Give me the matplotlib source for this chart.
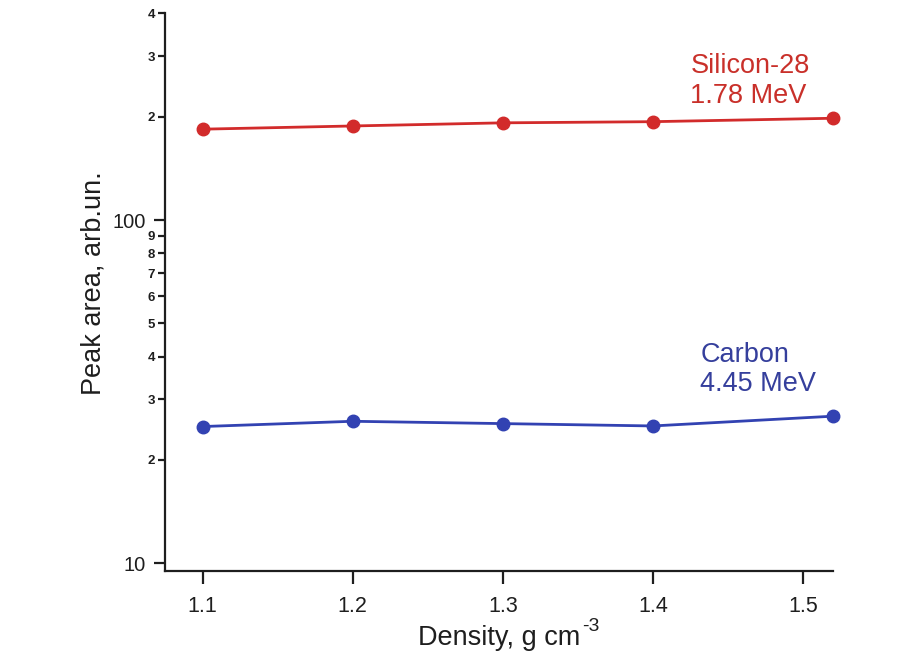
import matplotlib
matplotlib.use("Agg")
import matplotlib.pyplot as plt
from matplotlib.ticker import FixedLocator, FuncFormatter
import numpy as np

plt.rcParams['font.family'] = ['Liberation Sans', 'DejaVu Sans']

density = [1.1, 1.2, 1.3, 1.4, 1.52]
silicon = [184, 188, 192, 193.5, 198]
carbon = [25.0, 25.9, 25.5, 25.1, 26.8]

x_ticks = [1.1, 1.2, 1.3, 1.4, 1.5]
y_major = [10, 100]
y_minor = [20, 30, 40, 50, 60, 70, 80, 90, 200, 300, 400]

red = '#d22b2b'
blue = '#3242b2'
ink = '#1e1e1e'

fig = plt.figure(figsize=(9.1, 6.58), dpi=100)
ax = fig.add_axes([0.1813, 0.1322, 0.7341, 0.8473])

ax.plot(density, silicon, '-o', color=red, lw=2, ms=9, clip_on=False, zorder=3)
ax.plot(density, carbon, '-o', color=blue, lw=2, ms=9, clip_on=False, zorder=3)

ax.set_yscale('log')
ax.set_ylim(9.48, 400)
ax.set_xlim(1.075, 1.52)

ax.yaxis.set_major_locator(FixedLocator(y_major))
ax.yaxis.set_major_formatter(FuncFormatter(lambda v, p: f"{v:g}"))
ax.yaxis.set_minor_locator(FixedLocator(y_minor))
ax.yaxis.set_minor_formatter(
    FuncFormatter(lambda v, p: str(int(round(v / 10 ** np.floor(np.log10(v)))))))
ax.set_xticks(x_ticks)
ax.set_xticklabels([f"{v:.1f}" for v in x_ticks])

for s in ['top', 'right']:
    ax.spines[s].set_visible(False)
for s in ['left', 'bottom']:
    ax.spines[s].set_linewidth(1.6)
    ax.spines[s].set_color(ink)

ax.tick_params(axis='y', which='major', length=8, width=1.6, labelsize=14.5, pad=6, colors=ink)
ax.tick_params(axis='y', which='minor', length=5, width=1.6, labelsize=9.5, pad=2, colors=ink)
for lab in ax.yaxis.get_minorticklabels():
    lab.set_fontweight('bold')
ax.tick_params(axis='x', which='major', length=9, width=1.6, labelsize=15.5, pad=9, colors=ink)
ax.tick_params(axis='x', which='minor', bottom=False)

# axis titles
fig.text(93 / 910, 1 - 283 / 658, 'Peak area, arb.un.', rotation=90, fontsize=19.5,
         ha='center', va='center', color=ink)
xl = fig.text(418 / 910, 1 - 645 / 658, 'Density, g cm', fontsize=19.5,
              ha='left', va='baseline', color=ink)
fig.canvas.draw()
bb = xl.get_window_extent()
fig.text((bb.x1 + 2) / 910, 1 - 631 / 658, '-3', fontsize=14, ha='left',
         va='baseline', color=ink)

# series annotations
ax.text(1.425, 267.8, 'Silicon-28', color='#c9302a', fontsize=19.5, ha='left', va='baseline')
ax.text(1.425, 218.9, '1.78 MeV', color='#c9302a', fontsize=19.5, ha='left', va='baseline')
ax.text(1.4315, 38.63, 'Carbon', color='#353f9c', fontsize=19.5, ha='left', va='baseline')
ax.text(1.4315, 31.78, '4.45 MeV', color='#353f9c', fontsize=19.5, ha='left', va='baseline')

fig.savefig('out.png', dpi=100)
